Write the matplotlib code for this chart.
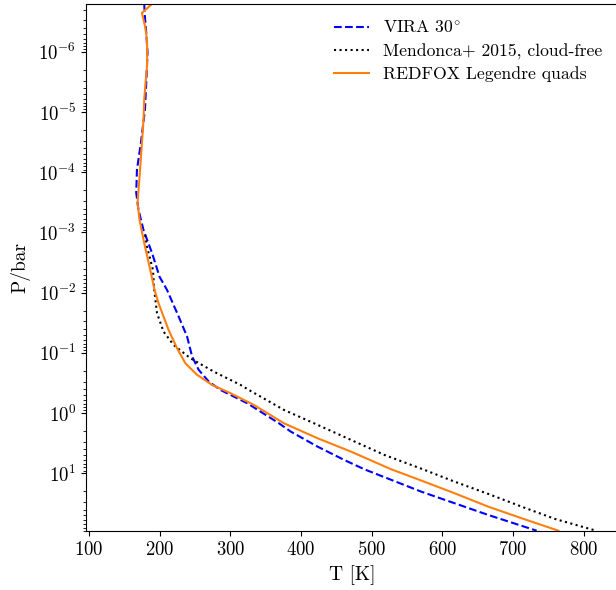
import matplotlib
matplotlib.use('Agg')
import matplotlib.pyplot as plt

plt.rcParams['font.family'] = 'serif'
plt.rcParams['font.serif'] = ['cmr10']
plt.rcParams['mathtext.fontset'] = 'cm'
plt.rcParams['axes.formatter.use_mathtext'] = True
plt.rcParams['font.size'] = 14
plt.rcParams['xtick.labelsize'] = 13.5
plt.rcParams['ytick.labelsize'] = 13.5

# VIRA 30 deg profile
vira_T = [178.1, 179.1, 181.0, 182.8, 181.0, 179.1, 173.4, 167.8, 166.8, 170.0,
          177.1, 189.1, 199.9, 210.4, 226.9, 238.8, 245.9, 255.3, 269.5, 286.1,
          324.0, 368.9, 385.5, 423.5, 461.2, 489.6, 570.2, 617.5, 664.9, 733.6]
vira_P = [1.6e-7, 2.62e-7, 4.83e-7, 1.04e-6, 3.27e-6, 9.2e-6, 3.25e-5, 9.1e-5, 2.2e-4, 4.2e-4,
          9.1e-4, 2.18e-3, 5.47e-3, 9.0e-3, 0.025, 0.0537, 0.115, 0.192, 0.30, 0.413,
          0.687, 1.48, 2.03, 3.61, 6.01, 8.58, 20.2, 31.5, 49.2, 90.0]

# Mendonca+ 2015 cloud-free profile
mend_T = [179.5, 182.0, 190.5, 192.3, 196.2, 205.5, 219.7, 243.5, 276.6, 314.5,
          328.7, 376.0, 423.5, 470.8, 518.1, 572.5, 617.5, 664.9, 712.2, 759.5, 814.1]
mend_P = [1.10e-3, 1.72e-3, 4.19e-3, 9.0e-3, 0.0219, 0.0444, 0.0738, 0.123, 0.205, 0.341,
          0.429, 0.887, 1.57, 2.79, 4.96, 8.58, 13.8, 22.0, 35.8, 57.4, 87.4]

# REDFOX Legendre quads profile
redfox_T = [189.1, 174.9, 179.5, 182.0, 182.4, 182.0, 180.0, 178.1, 177.1, 174.9,
            171.5, 168.6, 171.5, 178.1, 185.7, 192.8, 198.4, 212.6, 224.6, 236.4,
            253.0, 274.3, 300.3, 333.4, 376.0, 423.5, 470.8, 527.6, 570.2, 617.5,
            664.9, 712.2, 764.4]
redfox_P = [1.6e-7, 2.25e-7, 3.84e-7, 6.3e-7, 1.04e-6, 1.77e-6, 3.27e-6, 6.26e-6, 1.35e-5, 3.25e-5,
            1.19e-4, 3.23e-4, 6.18e-4, 1.49e-3, 3.73e-3, 9.0e-3, 0.0150, 0.0416, 0.0838, 0.149,
            0.232, 0.341, 0.468, 0.733, 1.48, 2.62, 4.37, 8.58, 13.2, 21.5,
            35.8, 55.8, 90.0]

fig = plt.figure(figsize=(6.16, 5.9), dpi=100)
ax = fig.add_axes([0.1396, 0.1, 0.864, 0.8932])

ax.plot(vira_T, vira_P, '--', color='b', lw=1.5, label=r'VIRA 30$^{\circ}$')
ax.plot(mend_T, mend_P, ':', color='k', lw=1.5, label='Mendonca+ 2015, cloud-free')
ax.plot(redfox_T, redfox_P, '-', color='C1', lw=1.5, label='REDFOX Legendre quads')

ax.set_yscale('log')
ax.set_yticks([1e-6, 1e-5, 1e-4, 1e-3, 1e-2, 1e-1, 1e0, 1e1])
ax.set_ylim(91, 1.6e-7)
ax.set_xlim(95.7, 849)
ax.set_xticks([100, 200, 300, 400, 500, 600, 700, 800])
ax.set_xlabel('T [K]', labelpad=5)
ax.set_ylabel('P/bar', labelpad=6)
ax.legend(loc='upper right', frameon=False, fontsize=12.7, labelspacing=0.4,
          borderaxespad=0.5)

fig.savefig('out.png', dpi=100)
